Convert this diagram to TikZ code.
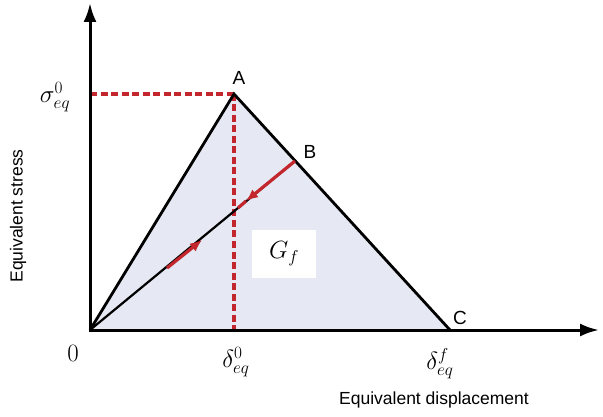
\documentclass[tikz,border=0pt]{standalone}
\usepackage{fontspec}
\setmainfont{Liberation Sans}
\usetikzlibrary{arrows.meta,calc}
\definecolor{redl}{HTML}{C3262C}
\definecolor{fillb}{HTML}{E6E9F3}
\tikzset{
  axis/.style={line width=3pt,-{Latex[length=19pt,width=13pt]}},
  tri/.style={line width=2.8pt,line join=miter},
  reddash/.style={redl,line width=3.2pt,dash pattern=on 7pt off 3.5pt},
  redseg/.style={redl,line width=3.2pt},
  redarr/.style={redl,line width=3.2pt,-{Latex[length=12pt,width=10pt]}},
  lbl/.style={font=\fontsize{17.5}{20}\selectfont,inner sep=1pt},
  ptlbl/.style={font=\fontsize{19}{22}\selectfont,inner sep=1pt},
  mlbl/.style={font=\fontsize{27}{30}\selectfont,inner sep=1pt},
}
\begin{document}
\begin{tikzpicture}[x=1pt,y=-1pt]
\useasboundingbox (0,0) rectangle (603,417);
\coordinate (O) at (90,330);
\coordinate (A) at (234,94);
\coordinate (B) at (295,161);
\coordinate (C) at (450,330);
\coordinate (Ytop) at (90,3);
\coordinate (Xend) at (599,330);
\coordinate (Ya) at (90,94);
\coordinate (Xa) at (234,330);
\coordinate (R1s) at (167,268);
\coordinate (R1e) at (202,240);
\coordinate (R2s) at (238,208);
\coordinate (R2t) at (246,201);
% fill
\fill[fillb] (O) -- (A) -- (C) -- cycle;
% Gf box
\node[fill=white,minimum width=64pt,minimum height=48pt,inner sep=0pt] (gf) at (284,254) {\fontsize{26}{28}\selectfont$G_f$};
% dashed
\draw[reddash] (Ya) -- (A);
\draw[reddash] (A) -- (Xa);
% triangle
\draw[tri] (O) -- (A) -- (C);
% line O-B
\draw[line width=2.2pt] (O) -- (B);
\draw[redarr] (R1s) -- (R1e);
\draw[redseg] (R2t) -- (R2s);
\draw[redarr] (B) -- (R2t);
% axes
\draw[axis] (O) -- (Ytop);
\draw[axis] ($(O)+(-1.5,0)$) -- (Xend);
% labels
\node[ptlbl] (la) at (239,78) {A};
\node[ptlbl] (lb) at (310,152) {B};
\node[ptlbl] (lc) at (460,318) {C};
\node[mlbl] (s0) at (55,97) {$\sigma_{eq}^{0}$};
\node[mlbl] (z) at (73,353) {$0$};
\node[mlbl] (d0) at (236,362) {$\delta_{eq}^{0}$};
\node[mlbl] (df) at (440,364) {$\delta_{eq}^{f}$};
\node[lbl] (xl) at (434,400) {Equivalent displacement};
\node[lbl,rotate=90] (yl) at (18,216) {Equivalent stress};
\end{tikzpicture}
\end{document}
